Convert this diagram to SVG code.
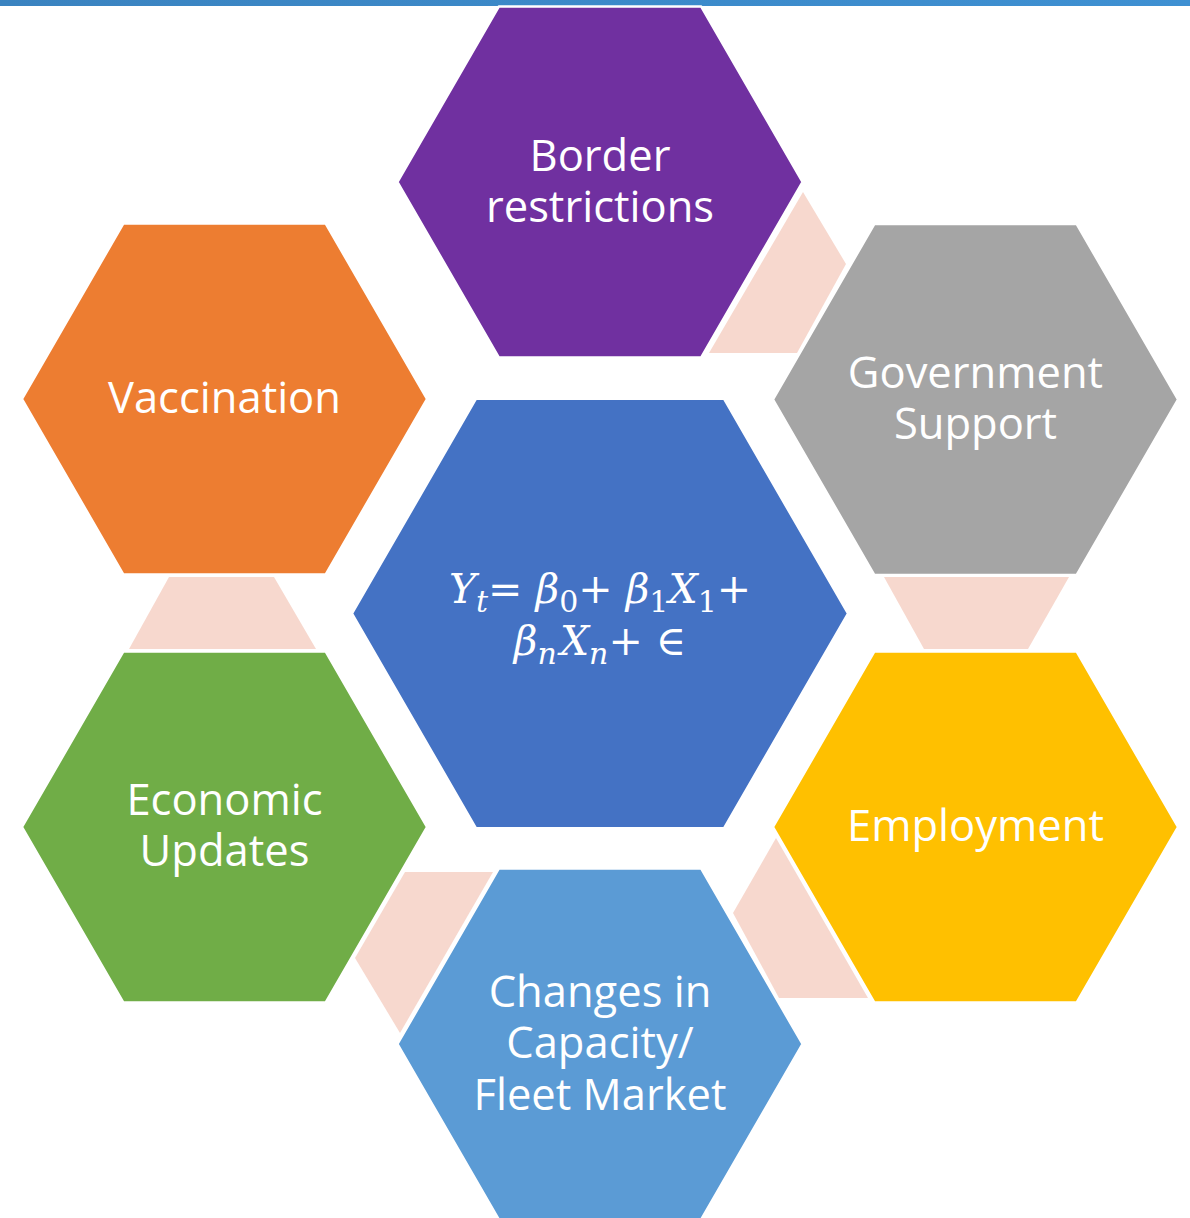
<svg xmlns="http://www.w3.org/2000/svg" width="1190" height="1218" viewBox="0 0 1190 1218">
<defs>
<linearGradient id="bar" x1="0" y1="0" x2="1" y2="0">
<stop offset="0" stop-color="#3a83c0"/>
<stop offset="1" stop-color="#3e90d2"/>
</linearGradient>
</defs>
<style>
.hex{stroke:#fff;stroke-width:2.5;stroke-linejoin:round}
.con{fill:#f7d8ce}
.lbl{font-family:"Open Sans","Noto Sans",sans-serif;font-size:43.5px;fill:#fff;text-anchor:middle}
.f{font-family:"DejaVu Serif","Liberation Serif",serif;font-size:41px;fill:#fff;text-anchor:middle}
.i{font-style:italic}
.s{font-size:30px}
</style>
<rect x="0" y="0" width="1190" height="6" fill="url(#bar)"/>
<g id="connectors">
<polygon class="con" points="803,192 846,264 797,353 709,353"/>
<polygon class="con" points="884,577 1069,577 1028,649 924,649"/>
<polygon class="con" points="776,838 868,998 779,998 733,913"/>
<polygon class="con" points="405,872 493,872 400,1033 355,958"/>
<polygon class="con" points="169,577 274,577 316,649 129,649"/>
</g>
<g id="border">
<polygon class="hex" fill="#7030a0" points="397.5,182 498.75,6.6 701.25,6.6 802.5,182 701.25,357.4 498.75,357.4"/>
<text class="lbl" x="600" y="171">Border</text>
<text class="lbl" x="600" y="222">restrictions</text>
</g>
<g id="vaccination">
<polygon class="hex" fill="#ed7d31" points="22,399 123.25,223.6 325.75,223.6 427,399 325.75,574.4 123.25,574.4"/>
<text class="lbl" x="224.5" y="413">Vaccination</text>
</g>
<g id="government">
<polygon class="hex" fill="#a5a5a5" points="773,399.5 874.25,224.1 1076.75,224.1 1178,399.5 1076.75,574.9 874.25,574.9"/>
<text class="lbl" x="975.5" y="388">Government</text>
<text class="lbl" x="975.5" y="439">Support</text>
</g>
<g id="economic">
<polygon class="hex" fill="#70ad47" points="22,827 123.25,651.6 325.75,651.6 427,827 325.75,1002.4 123.25,1002.4"/>
<text class="lbl" x="224.5" y="815">Economic</text>
<text class="lbl" x="224.5" y="866">Updates</text>
</g>
<g id="employment">
<polygon class="hex" fill="#ffc000" points="773,827 874.25,651.6 1076.75,651.6 1178,827 1076.75,1002.4 874.25,1002.4"/>
<text class="lbl" x="975.5" y="841">Employment</text>
</g>
<g id="capacity">
<polygon class="hex" fill="#5b9bd5" points="397.5,1044 498.75,868.6 701.25,868.6 802.5,1044 701.25,1219.4 498.75,1219.4"/>
<text class="lbl" x="600" y="1007">Changes in</text>
<text class="lbl" x="600" y="1058">Capacity/</text>
<text class="lbl" x="600" y="1110">Fleet Market</text>
</g>
<g id="model">
<polygon class="hex" fill="#4472c4" points="352,613.5 476,398.7 724,398.7 848,613.5 724,828.3 476,828.3"/>
<text class="f" x="600" y="603"><tspan class="i">Y</tspan><tspan class="i s" dy="9">t</tspan><tspan dy="-9">= </tspan><tspan class="i">β</tspan><tspan class="s" dy="9">0</tspan><tspan dy="-9">+ </tspan><tspan class="i">β</tspan><tspan class="s" dy="9">1</tspan><tspan class="i" dy="-9">X</tspan><tspan class="s" dy="9">1</tspan><tspan dy="-9">+</tspan></text>
<text class="f" x="600" y="655"><tspan class="i">β</tspan><tspan class="i s" dy="9">n</tspan><tspan class="i" dx="3" dy="-9">X</tspan><tspan class="i s" dy="9">n</tspan><tspan dy="-9">+ ∈</tspan></text>
</g>
</svg>
